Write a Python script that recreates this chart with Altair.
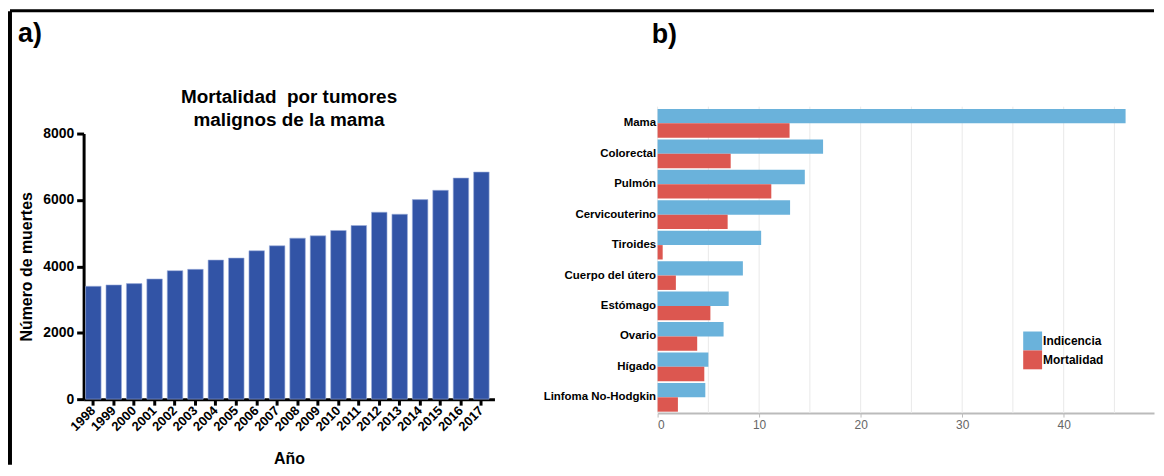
import altair as alt
import pandas as pd

# ---- Panel a) data ----
years = [str(y) for y in range(1998, 2018)]
deaths = [3400, 3440, 3480, 3620, 3870, 3910, 4190, 4250, 4470, 4620,
          4850, 4920, 5080, 5230, 5630, 5570, 6010, 6290, 6660, 6840]
y_ticks = [0, 2000, 4000, 6000, 8000]

# ---- Panel b) data ----
cancers = ["Mama", "Colorectal", "Pulmón", "Cervicouterino", "Tiroides",
           "Cuerpo del útero", "Estómago", "Ovario", "Hígado", "Linfoma No-Hodgkin"]
incidencia = [46.1, 16.3, 14.5, 13.05, 10.2, 8.4, 7.0, 6.5, 5.0, 4.7]
mortalidad = [13.0, 7.2, 11.2, 6.9, 0.5, 1.8, 5.2, 3.9, 4.6, 2.0]
series = ["Indicencia", "Mortalidad"]
series_colors = ["#6AB2DB", "#DC5750"]
x_labels_b = [0, 10, 20, 30, 40]
grid_b = [0, 5, 10, 15, 20, 25, 30, 35, 40, 45]

FONT = "Liberation Sans"

df_a = pd.DataFrame({"year": years, "deaths": deaths})
rows = []
for c, i, m in zip(cancers, incidencia, mortalidad):
    rows.append({"cancer": c, "serie": series[0], "value": i})
    rows.append({"cancer": c, "serie": series[1], "value": m})
df_b = pd.DataFrame(rows)
df_grid = pd.DataFrame({"value": grid_b})

one = alt.Data(values=[{}])

# ---------------- Left panel ----------------
bars_a = alt.Chart(df_a).mark_bar(color="#3254A6", stroke="#9fb0dc", strokeWidth=0.6).encode(
    x=alt.X("year:O", sort=years,
            scale=alt.Scale(paddingInner=0.24, paddingOuter=0.178, align=0.27),
            axis=alt.Axis(title="Año", titleFont=FONT, titleFontSize=16, titleFontWeight="bold",
                          titleColor="#000", titleBaseline="alphabetic", titleY=64.5,
                          labelFont=FONT, labelFontSize=13, labelFontWeight="bold", labelColor="#000",
                          labelAngle=-45, labelAlign="right", labelBaseline="middle", labelPadding=3,
                          tickSize=6, tickWidth=3, tickColor="#000",
                          domainColor="#000", domainWidth=3)),
    y=alt.Y("deaths:Q",
            scale=alt.Scale(domain=[0, 8000], range=[294, 27], nice=False, zero=True),
            axis=alt.Axis(title="Número de muertes", values=y_ticks, format="d",
                          titleFont=FONT, titleFontSize=16, titleFontWeight="bold", titleColor="#000",
                          titleX=-57, titleY=160.5, titleBaseline="middle", titleAngle=270,
                          labelFont=FONT, labelFontSize=14, labelFontWeight="bold", labelColor="#000",
                          labelPadding=3, tickSize=7, tickWidth=3, tickColor="#000",
                          domainColor="#000", domainWidth=3, grid=False)),
)

title1 = alt.Chart(one).mark_text(text="Mortalidad\u00a0 por tumores", font=FONT, fontSize=19,
                                  fontWeight="bold", color="#000", align="center",
                                  baseline="alphabetic").encode(x=alt.value(206.5), y=alt.value(-4))
title2 = alt.Chart(one).mark_text(text="malignos de la mama", font=FONT, fontSize=19,
                                  fontWeight="bold", color="#000", align="center",
                                  baseline="alphabetic").encode(x=alt.value(206.5), y=alt.value(19))
lab_a = alt.Chart(one).mark_text(text="a)", font=FONT, fontSize=27, fontWeight="bold",
                                 color="#000", align="left", baseline="alphabetic").encode(
    x=alt.value(-66), y=alt.value(-65))
lab_b = alt.Chart(one).mark_text(text="b)", font=FONT, fontSize=27, fontWeight="bold",
                                 color="#000", align="left", baseline="alphabetic").encode(
    x=alt.value(571), y=alt.value(-64))
frame_top = alt.Chart(one).mark_rule(color="#000", strokeWidth=3).encode(
    x=alt.value(-74), x2=alt.value(1076), y=alt.value(-96.5))
frame_left = alt.Chart(one).mark_rule(color="#000", strokeWidth=4).encode(
    x=alt.value(-74), y=alt.value(-96), y2=alt.value(360))

left = alt.layer(bars_a, title1, title2, lab_a, lab_b, frame_top, frame_left).properties(
    width=413, height=294)

# ---------------- Right panel ----------------
x_b = alt.X("value:Q", scale=alt.Scale(domain=[0, 48.9], nice=False),
            axis=alt.Axis(title=None, values=x_labels_b, grid=False,
                          labelFont=FONT, labelFontSize=12, labelColor="#666",
                          labelPadding=3, tickSize=4, tickColor="#bbb", tickWidth=1,
                          domainColor="#bbb", domainWidth=2))

grid_layer = alt.Chart(df_grid).mark_rule(color="#e9e9e9", strokeWidth=1).encode(
    x=x_b, y=alt.value(0), y2=alt.value(308))

bars_b = alt.Chart(df_b).mark_bar().encode(
    x=x_b,
    y=alt.Y("cancer:N", sort=cancers,
            scale=alt.Scale(paddingInner=0.055, paddingOuter=0.06, align=0.62),
            axis=alt.Axis(title=None, domain=False, ticks=False,
                          labelFont=FONT, labelFontSize=11.5, labelFontWeight="bold",
                          labelColor="#000", labelPadding=2)),
    yOffset=alt.YOffset("serie:N", sort=series,
                        scale=alt.Scale(paddingInner=0, paddingOuter=0)),
    color=alt.Color("serie:N", sort=series,
                    scale=alt.Scale(domain=series, range=series_colors),
                    legend=alt.Legend(orient="none", legendX=944.5, legendY=226, title=None,
                                      symbolType="square", symbolSize=361, symbolStrokeWidth=0,
                                      symbolOpacity=1, rowPadding=0, padding=0,
                                      labelFont=FONT, labelFontSize=12, labelFontWeight="bold",
                                      labelColor="#000", labelOffset=1)),
)

right = alt.layer(grid_layer, bars_b).properties(width=499, height=308)

chart = alt.hconcat(left, right, spacing=164, bounds="flush").properties(
    padding=0, background="white"
).configure_view(stroke=None)

chart.save("out.html", embed_options={"renderer": "svg", "actions": False})
